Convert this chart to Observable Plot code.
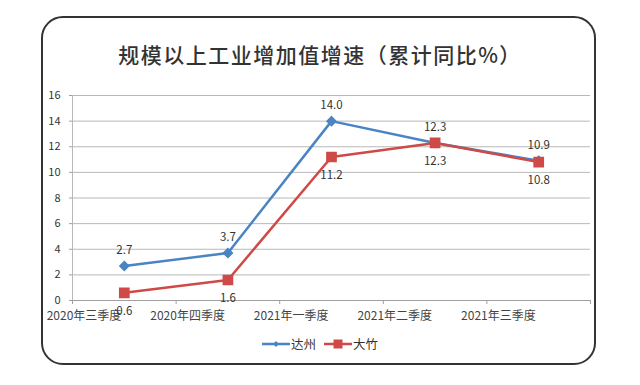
<!DOCTYPE html>
<html>
<head>
<meta charset="utf-8">
<script src="https://cdn.jsdelivr.net/npm/d3@7"></script>
<script src="https://cdn.jsdelivr.net/npm/@observablehq/plot@0.6"></script>
<style>
  html, body { margin: 0; padding: 0; background: #fff; }
  #wrap { position: relative; width: 640px; height: 385px; overflow: hidden; font-family: "Noto Sans CJK SC", "Noto Sans", sans-serif; }
  #border { position: absolute; left: 41px; top: 16px; width: 551px; height: 345px; border: 2px solid #333; border-radius: 22px; }
  #title { position: absolute; left: 0; width: 640px; top: 40px; text-align: center; font-size: 21px; letter-spacing: 1.5px; color: #333; font-weight: 500; line-height: 28px; }
  #chart { position: absolute; left: 0; top: 0; }
  #legend { position: absolute; top: 334px; left: 0; width: 640px; text-align: center; font-size: 12.5px; color: #333; }
  #legend span.item { display: inline-flex; align-items: center; margin: 0 4px; }
  #legend svg { margin-right: 1px; }
</style>
</head>
<body>
<div id="wrap">
  <div id="border"></div>
  <div id="title">规模以上工业增加值增速（累计同比%）</div>
  <div id="chart"></div>
  <div id="legend"></div>
</div>
<script>
const quarters = ["2020年三季度", "2020年四季度", "2021年一季度", "2021年二季度", "2021年三季度"];
const seriesNames = ["达州", "大竹"];
const dazhou = [2.7, 3.7, 14.0, 12.3, 10.9];
const dazhu = [0.6, 1.6, 11.2, 12.3, 10.8];
const yTicks = [0, 2, 4, 6, 8, 10, 12, 14, 16];
const colors = ["#4a84c4", "#cf4a46"];

const rows = [];
quarters.forEach((q, i) => {
  rows.push({ i, q, s: seriesNames[0], v: dazhou[i] });
  rows.push({ i, q, s: seriesNames[1], v: dazhu[i] });
});
const rowsA = rows.filter(d => d.s === seriesNames[0]);
const rowsB = rows.filter(d => d.s === seriesNames[1]);

const chart = Plot.plot({
  width: 640,
  height: 330,
  marginLeft: 72,
  marginRight: 50,
  marginTop: 95,
  marginBottom: 30,
  style: { fontFamily: '"Noto Sans CJK SC", "Noto Sans", sans-serif', color: "#333", background: "transparent", overflow: "visible" },
  x: { type: "linear", domain: [-0.5, quarters.length - 0.5], label: null },
  y: { domain: [0, 16], label: null },
  marks: [
    Plot.gridY(yTicks, { stroke: "#b8b8b8", strokeOpacity: 1 }),
    Plot.frame({ anchor: "left", stroke: "#b8b8b8" }),
    Plot.ruleY([0], { stroke: "#a0a0a0" }),
    Plot.axisY(yTicks, { label: null, tickSize: 3, tickPadding: 9, fontSize: 11, stroke: "#a0a0a0", fill: "#333", tickFormat: d => String(d) }),
    Plot.axisX(d3.range(-0.5, quarters.length, 1), { label: null, tickSize: 4, tickFormat: () => "", stroke: "#a0a0a0" }),
    Plot.axisX(d3.range(0, quarters.length), { label: null, tickSize: 0, tickPadding: 11, tickFormat: i => quarters[i], textAnchor: "end", dx: -3, fontSize: 12, fill: "#444" }),
    Plot.line(rowsA, { x: "i", y: "v", stroke: colors[0], strokeWidth: 2.5 }),
    Plot.line(rowsB, { x: "i", y: "v", stroke: colors[1], strokeWidth: 2.5 }),
    Plot.dot(rowsA, { x: "i", y: "v", symbol: "diamond2", r: 4, fill: colors[0], stroke: colors[0] }),
    Plot.dot(rowsB, { x: "i", y: "v", symbol: "square", r: 5.2, fill: colors[1], stroke: colors[1] }),
    Plot.text(rowsA, { x: "i", y: "v", text: d => d.v.toFixed(1), dy: -16, fontSize: 11.5, fill: "#333" }),
    Plot.text(rowsB, { x: "i", y: "v", text: d => d.v.toFixed(1), dy: 18, fontSize: 11.5, fill: "#333" })
  ]
});
document.getElementById("chart").appendChild(chart);

const legend = document.getElementById("legend");
seriesNames.forEach((name, k) => {
  const item = document.createElement("span");
  item.className = "item";
  const marker = k === 0
    ? `<path d="M14,6 L17,9 L14,12 L11,9 Z" fill="${colors[k]}"/>`
    : `<rect x="9.5" y="4.5" width="9" height="9" fill="${colors[k]}"/>`;
  item.innerHTML = `<svg width="28" height="18"><line x1="0" y1="9" x2="28" y2="9" stroke="${colors[k]}" stroke-width="2.5"/>${marker}</svg><span>${name}</span>`;
  legend.appendChild(item);
});
</script>
</body>
</html>
